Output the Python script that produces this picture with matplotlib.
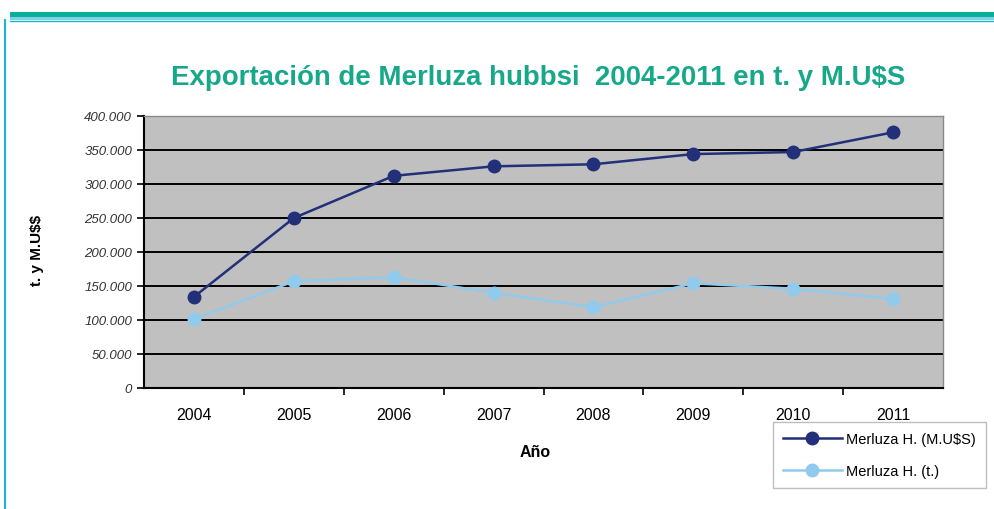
import matplotlib.pyplot as plt
import matplotlib.ticker as mticker
from matplotlib.patches import Rectangle
from matplotlib.lines import Line2D

plt.rcParams['text.parse_math'] = False
plt.rcParams['font.family'] = ['Liberation Sans', 'DejaVu Sans']

years = ["2004", "2005", "2006", "2007", "2008", "2009", "2010", "2011"]
musd = [134000, 250000, 312000, 326000, 329000, 344000, 347000, 376000]
tons = [101000, 157000, 163000, 140000, 119000, 154000, 146000, 131000]

dark = "#22307a"
light = "#90cbee"

fig = plt.figure(figsize=(9.94, 5.10), dpi=100)

# decorative frame
fig.add_artist(Rectangle((0.010, 1 - 18 / 510), 0.99, 5 / 510, transform=fig.transFigure,
                         facecolor="#08b09a", edgecolor="none"))
fig.add_artist(Rectangle((0.010, 1 - 21 / 510), 0.99, 3 / 510, transform=fig.transFigure,
                         facecolor="#7fd2e0", edgecolor="none"))
fig.add_artist(Line2D([0.010, 1.0], [1 - 21.5 / 510, 1 - 21.5 / 510], transform=fig.transFigure,
                      color="#19b5d6", lw=1))
fig.add_artist(Line2D([4.5 / 994, 4.5 / 994], [0, 1 - 21 / 510], transform=fig.transFigure,
                      color="#19b5d6", lw=1.5))

ax = fig.add_axes([144 / 994, 1 - 389 / 510, (943 - 144) / 994, (389 - 117) / 510])
ax.set_facecolor("#c0c0c0")

x = list(range(len(years)))
ax.plot(x, musd, color=dark, lw=1.8, marker="o", ms=9, label="Merluza H. (M.U$S)", zorder=3)
ax.plot(x, tons, color=light, lw=1.8, marker="o", ms=9, label="Merluza H. (t.)", zorder=3)

ax.set_xlim(-0.5, len(years) - 0.5)
ax.set_ylim(0, 400000)
ax.yaxis.set_major_locator(mticker.MultipleLocator(50000))
ax.yaxis.set_major_formatter(mticker.FuncFormatter(
    lambda v, p: "0" if v == 0 else f"{int(v):,}".replace(",", ".")))
ax.grid(axis="y", color="black", lw=1.4, zorder=1)
ax.set_axisbelow(True)

ax.set_xticks([i + 0.5 for i in x[:-1]])
ax.set_xticklabels([])
ax.set_xticks(x, minor=True)
ax.set_xticklabels(years, minor=True)
ax.tick_params(axis="x", which="major", length=5, width=1.2, direction="out")
ax.tick_params(axis="x", which="minor", length=0, labelsize=11.5, pad=14)
ax.tick_params(axis="y", length=5, width=1.2, direction="out", labelsize=9.5,
               labelcolor="#333333")
for lbl in ax.get_yticklabels():
    lbl.set_fontstyle("italic")

for s in ["top", "right"]:
    ax.spines[s].set_color("#8a8a8a")
    ax.spines[s].set_linewidth(1)
for s in ["left", "bottom"]:
    ax.spines[s].set_color("black")
    ax.spines[s].set_linewidth(1.5)

fig.text(538 / 994, 1 - 78 / 510, "Exportación de Merluza hubbsi  2004-2011 en t. y M.U$S",
         ha="center", va="center", fontsize=19.9, fontweight="bold", color="#17a88a")
fig.text(37 / 994, 1 - 250 / 510, "t. y M.U$$", rotation=90, ha="center", va="center",
         fontsize=11, fontweight="bold")
fig.text(535 / 994, 1 - 453 / 510, "Año", ha="center", va="center",
         fontsize=11.5, fontweight="bold")

leg = fig.legend(loc="upper left", bbox_to_anchor=(773 / 994, 1 - 423 / 510),
                 borderaxespad=0, frameon=True, fancybox=False, fontsize=10.5,
                 handlelength=4.0, labelspacing=1.2, borderpad=0.7, handletextpad=0.3)
leg.get_frame().set_edgecolor("#b0b0b0")
leg.get_frame().set_linewidth(1)

fig.savefig("out.png", dpi=100)
